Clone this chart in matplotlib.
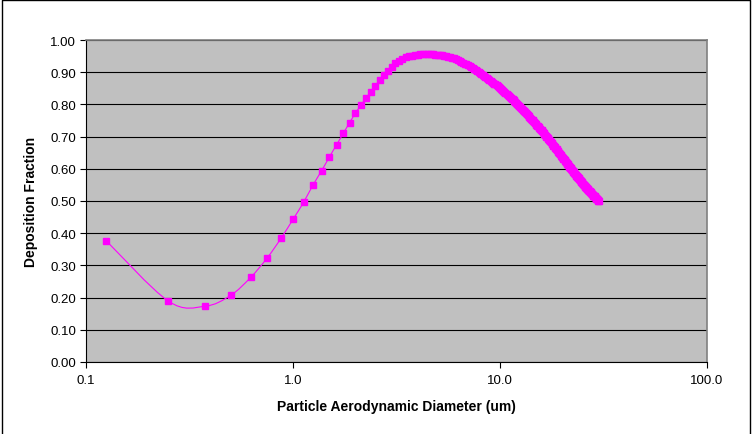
"""Deposition fraction vs particle aerodynamic diameter (Excel-style chart)."""

import matplotlib
matplotlib.use("Agg")
import matplotlib.pyplot as plt
import numpy as np
from matplotlib.lines import Line2D
from matplotlib.path import Path
from matplotlib.patches import PathPatch
from matplotlib.transforms import Affine2D

plt.rcParams["font.family"] = ["Liberation Sans", "DejaVu Sans"]

# ---------------------------------------------------------------------------
# Data
# ---------------------------------------------------------------------------

diameter_um = [
    0.125, 0.25, 0.375, 0.5, 0.625, 0.75, 0.875, 1.0,
    1.125, 1.25, 1.375, 1.5, 1.625, 1.75, 1.875, 2.0,
    2.125, 2.25, 2.375, 2.5, 2.625, 2.75, 2.875, 3.0,
    3.125, 3.25, 3.375, 3.5, 3.625, 3.75, 3.875, 4.0,
    4.125, 4.25, 4.375, 4.5, 4.625, 4.75, 4.875, 5.0,
    5.125, 5.25, 5.375, 5.5, 5.625, 5.75, 5.875, 6.0,
    6.125, 6.25, 6.375, 6.5, 6.625, 6.75, 6.875, 7.0,
    7.125, 7.25, 7.375, 7.5, 7.625, 7.75, 7.875, 8.0,
    8.125, 8.25, 8.375, 8.5, 8.625, 8.75, 8.875, 9.0,
    9.125, 9.25, 9.375, 9.5, 9.625, 9.75, 9.875, 10.0,
    10.125, 10.25, 10.375, 10.5, 10.625, 10.75, 10.875, 11.0,
    11.125, 11.25, 11.375, 11.5, 11.625, 11.75, 11.875, 12.0,
    12.125, 12.25, 12.375, 12.5, 12.625, 12.75, 12.875, 13.0,
    13.125, 13.25, 13.375, 13.5, 13.625, 13.75, 13.875, 14.0,
    14.125, 14.25, 14.375, 14.5, 14.625, 14.75, 14.875, 15.0,
    15.125, 15.25, 15.375, 15.5, 15.625, 15.75, 15.875, 16.0,
    16.125, 16.25, 16.375, 16.5, 16.625, 16.75, 16.875, 17.0,
    17.125, 17.25, 17.375, 17.5, 17.625, 17.75, 17.875, 18.0,
    18.125, 18.25, 18.375, 18.5, 18.625, 18.75, 18.875, 19.0,
    19.125, 19.25, 19.375, 19.5, 19.625, 19.75, 19.875, 20.0,
    20.125, 20.25, 20.375, 20.5, 20.625, 20.75, 20.875, 21.0,
    21.125, 21.25, 21.375, 21.5, 21.625, 21.75, 21.875, 22.0,
    22.125, 22.25, 22.375, 22.5, 22.625, 22.75, 22.875, 23.0,
    23.125, 23.25, 23.375, 23.5, 23.625, 23.75, 23.875, 24.0,
    24.125, 24.25, 24.375, 24.5, 24.625, 24.75, 24.875, 25.0,
    25.125, 25.25, 25.375, 25.5, 25.625, 25.75, 25.875, 26.0,
    26.125, 26.25, 26.375, 26.5, 26.625, 26.75, 26.875, 27.0,
    27.125, 27.25, 27.375, 27.5, 27.625, 27.75, 27.875, 28.0,
    28.125, 28.25, 28.375, 28.5, 28.625, 28.75, 28.875, 29.0,
    29.125, 29.25, 29.375, 29.5, 29.625, 29.75, 29.875, 30.0,
]

deposition = [
    0.377, 0.189, 0.173, 0.207, 0.263, 0.323, 0.384, 0.443,
    0.496, 0.550, 0.594, 0.637, 0.675, 0.710, 0.743, 0.772,
    0.797, 0.819, 0.839, 0.858, 0.875, 0.890, 0.904, 0.917,
    0.928, 0.936, 0.942, 0.946, 0.949, 0.951, 0.953, 0.954,
    0.955, 0.955, 0.956, 0.956, 0.955, 0.955, 0.954, 0.954,
    0.953, 0.952, 0.951, 0.949, 0.948, 0.946, 0.945, 0.943,
    0.941, 0.938, 0.935, 0.933, 0.930, 0.927, 0.924, 0.921,
    0.918, 0.915, 0.912, 0.909, 0.906, 0.903, 0.900, 0.897,
    0.894, 0.891, 0.888, 0.885, 0.882, 0.879, 0.876, 0.873,
    0.870, 0.867, 0.864, 0.862, 0.859, 0.856, 0.853, 0.850,
    0.847, 0.844, 0.841, 0.839, 0.836, 0.833, 0.830, 0.827,
    0.824, 0.821, 0.818, 0.816, 0.813, 0.810, 0.807, 0.804,
    0.801, 0.798, 0.795, 0.793, 0.790, 0.787, 0.784, 0.781,
    0.778, 0.775, 0.773, 0.770, 0.767, 0.764, 0.762, 0.759,
    0.756, 0.753, 0.751, 0.748, 0.745, 0.742, 0.740, 0.737,
    0.734, 0.732, 0.729, 0.726, 0.724, 0.721, 0.719, 0.716,
    0.713, 0.711, 0.708, 0.705, 0.703, 0.700, 0.698, 0.695,
    0.692, 0.690, 0.687, 0.685, 0.682, 0.680, 0.677, 0.675,
    0.672, 0.670, 0.667, 0.665, 0.662, 0.660, 0.657, 0.655,
    0.653, 0.650, 0.648, 0.645, 0.643, 0.641, 0.638, 0.636,
    0.634, 0.631, 0.629, 0.627, 0.625, 0.622, 0.620, 0.618,
    0.616, 0.614, 0.612, 0.610, 0.607, 0.605, 0.603, 0.601,
    0.599, 0.597, 0.595, 0.593, 0.591, 0.589, 0.587, 0.585,
    0.583, 0.581, 0.579, 0.577, 0.576, 0.574, 0.572, 0.570,
    0.568, 0.566, 0.565, 0.563, 0.561, 0.559, 0.558, 0.556,
    0.554, 0.553, 0.551, 0.549, 0.548, 0.546, 0.544, 0.543,
    0.541, 0.540, 0.538, 0.537, 0.535, 0.534, 0.532, 0.531,
    0.530, 0.528, 0.527, 0.525, 0.524, 0.523, 0.521, 0.520,
    0.519, 0.517, 0.516, 0.515, 0.514, 0.512, 0.511, 0.510,
    0.509, 0.507, 0.506, 0.505, 0.504, 0.502, 0.501, 0.500,
]

x_ticks = [0.1, 1.0, 10.0, 100.0]
x_tick_labels = ["0.1", "1.0", "10.0", "100.0"]
y_ticks = [0.0, 0.1, 0.2, 0.3, 0.4, 0.5, 0.6, 0.7, 0.8, 0.9, 1.0]

MAGENTA = "#FF00FF"
PLOT_BG = "#C0C0C0"


def smoothed_path(ax, xs, ys, w_px, h_px):
    """Excel-like smoothed line: Catmull-Rom Beziers drawn in axes pixel space."""
    x0, x1 = ax.get_xlim()
    y0, y1 = ax.get_ylim()
    px = (np.log10(xs) - np.log10(x0)) / (np.log10(x1) - np.log10(x0)) * w_px
    py = (np.asarray(ys) - y0) / (y1 - y0) * h_px
    pts = np.column_stack([px, py])
    n = len(pts)
    verts = [pts[0]]
    codes = [Path.MOVETO]
    for i in range(n - 1):
        p_prev = pts[max(i - 1, 0)]
        p_next2 = pts[min(i + 2, n - 1)]
        c1 = pts[i] + (pts[i + 1] - p_prev) / 6.0
        c2 = pts[i + 1] - (p_next2 - pts[i]) / 6.0
        verts += [c1, c2, pts[i + 1]]
        codes += [Path.CURVE4] * 3
    trans = Affine2D().scale(1.0 / w_px, 1.0 / h_px) + ax.transAxes
    return PathPatch(Path(verts, codes), transform=trans, facecolor="none",
                     edgecolor=MAGENTA, linewidth=0.8, zorder=3)


fig = plt.figure(figsize=(7.52, 4.35), dpi=100)
ax = fig.add_axes([86 / 752, 72 / 435, 621 / 752, 322 / 435])
ax.set_facecolor(PLOT_BG)

ax.set_xscale("log")
ax.set_xlim(0.1, 100)
ax.set_ylim(0, 1)

ax.add_patch(smoothed_path(ax, diameter_um, deposition, 621, 322))
ax.plot(diameter_um, deposition, linestyle="none", marker="s",
        markersize=4.6, color=MAGENTA, markeredgecolor=MAGENTA, zorder=4)

ax.set_yticks(y_ticks)
ax.set_yticklabels([f"{v:.2f}" for v in y_ticks])
ax.set_xticks(x_ticks)
ax.set_xticklabels(x_tick_labels)
ax.xaxis.set_minor_locator(matplotlib.ticker.NullLocator())
ax.tick_params(axis="both", direction="out", length=4, width=0.8,
               color="black", labelsize=9.5)
ax.tick_params(axis="x", pad=5)
ax.tick_params(axis="y", pad=3)

ax.grid(True, axis="y", color="black", linewidth=0.8)
ax.set_axisbelow(True)

for side in ("top", "right"):
    ax.spines[side].set_color("#808080")
    ax.spines[side].set_linewidth(1.2)
for side in ("left", "bottom"):
    ax.spines[side].set_color("black")
    ax.spines[side].set_linewidth(0.8)

ax.set_xlabel("Particle Aerodynamic Diameter (um)", fontsize=10,
              fontweight="bold", labelpad=9)
ax.set_ylabel("Deposition Fraction", fontsize=10, fontweight="bold", labelpad=9)

# chart-area border (bottom edge falls outside the saved image)
fig.add_artist(Line2D([0.002, 0.002, 0.998, 0.998], [0.0, 0.997, 0.997, 0.0],
                      transform=fig.transFigure, color="black", linewidth=1.0))

fig.savefig("out.png", dpi=100)
